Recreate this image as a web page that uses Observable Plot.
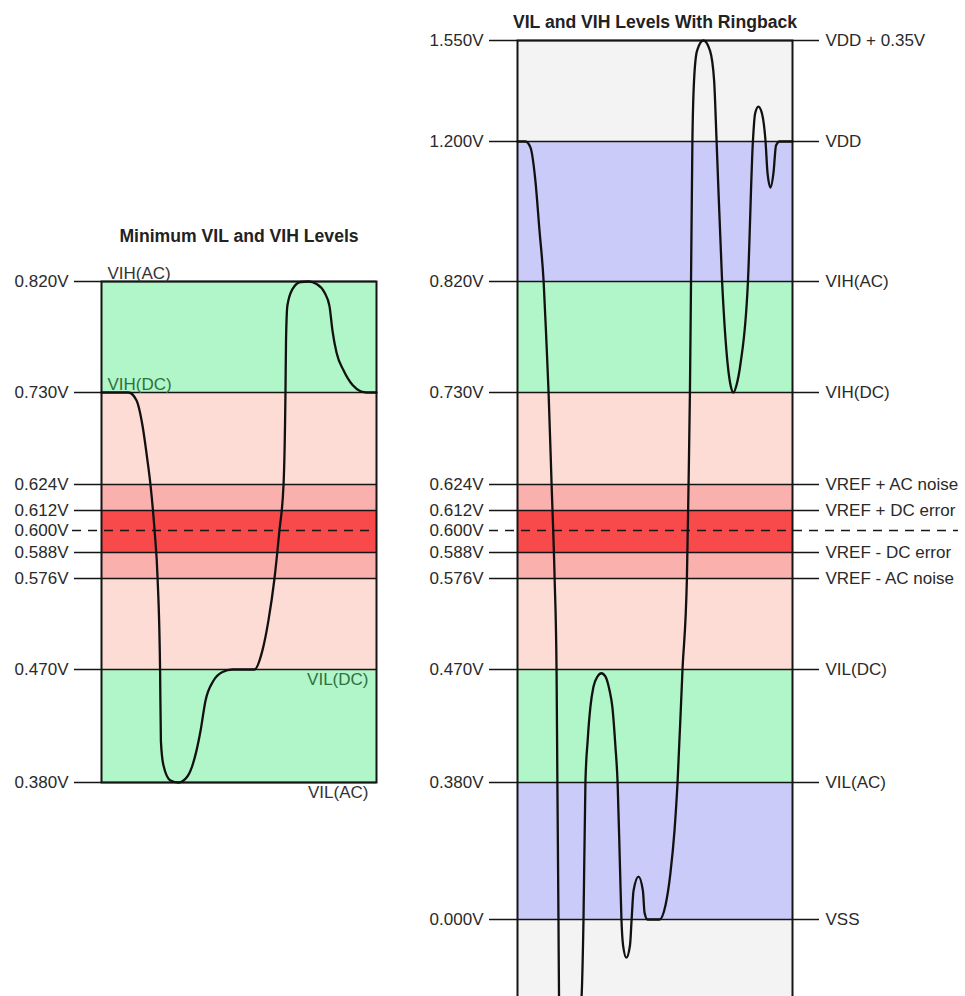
<!DOCTYPE html>
<html>
<head>
<meta charset="utf-8">
<script src="https://cdn.jsdelivr.net/npm/d3@7"></script>
<script src="https://cdn.jsdelivr.net/npm/@observablehq/plot@0.6"></script>
<style>
  html, body { margin: 0; padding: 0; background: #fff; overflow: hidden; }
  #wrap { display: flex; width: 965px; height: 996px; }
  #wrap svg { overflow: hidden; }
</style>
</head>
<body>
<div id="wrap"></div>
<script>
// ---------- data ----------
const leftTitle = "Minimum VIL and VIH Levels";
const rightTitle = "VIL and VIH Levels With Ringback";

// voltage levels (V) and their names on the right-hand panel
const levels     = [0, 0.38, 0.47, 0.576, 0.588, 0.600, 0.612, 0.624, 0.73, 0.82, 1.2, 1.55];
const levelNames = ["VSS", "VIL(AC)", "VIL(DC)", "VREF - AC noise", "VREF - DC error", "",
                    "VREF + DC error", "VREF + AC noise", "VIH(DC)", "VIH(AC)", "VDD", "VDD + 0.35V"];
const vref = 0.600;

// shaded zones
const zoneLow  = [-0.3, 0,    0.38, 0.47,  0.576, 0.588, 0.612, 0.624, 0.73, 0.82, 1.2];
const zoneHigh = [0,    0.38, 0.47, 0.576, 0.588, 0.612, 0.624, 0.73,  0.82, 1.2,  1.55];
const zoneKind = ["outside", "rail", "ac", "dc", "noise", "error", "noise", "dc", "ac", "rail", "outside"];

// names written inside the left panel
const leftNotes      = ["VIH(AC)", "VIH(DC)", "VIL(DC)", "VIL(AC)"];
const leftNoteLevels = [0.82, 0.73, 0.47, 0.38];
const leftNoteKind   = ["ac", "dc", "dc", "ac"];

// waveform, left panel (time 0..100, volts)
const leftT = [0, 9.8, 12.7, 14.9, 16.7, 17.8, 19.3, 20.4, 21.3, 21.6, 22.5, 25.1, 28.0,
               31.3, 34.5, 36.0, 37.8, 40.7, 44.0, 47.6, 55.6, 58.5, 60.7, 62.9, 64.7, 66.2,
               66.9, 67.1, 67.6, 69.5, 72.4, 75.3, 78.2, 81.1, 82.9, 84.0, 85.5, 88.0, 91.3,
               94.2, 96.4, 100];
const leftV = [0.73, 0.73, 0.721, 0.692, 0.652, 0.624, 0.600, 0.576, 0.47, 0.413, 0.394, 0.3816, 0.38,
               0.385, 0.405, 0.421, 0.445, 0.461, 0.468, 0.47, 0.47, 0.492, 0.527, 0.576, 0.600, 0.624,
               0.73, 0.772, 0.8005, 0.814, 0.8196, 0.82, 0.818, 0.811, 0.80, 0.78, 0.762, 0.748, 0.736,
               0.731, 0.73, 0.73];

// waveform, right panel (time 0..100, volts)
const rightT = [0, 2.9, 4.7, 6.5, 8.0, 9.5, 10.5, 11.3, 12.4, 13.5, 14.2, 14.5, 14.9, 15.1, 17.5,
                23.3, 24.0, 24.7, 25.5, 26.5, 27.6, 29.1, 30.5, 32.0, 33.5, 34.5, 35.6, 36.4, 37.3,
                37.8, 38.4, 39.6, 40.9, 41.5, 42.2, 44.0, 45.6, 46.2, 47.3, 51.6, 53.8, 55.6, 57.1,
                58.2, 60.0, 61.6, 62.2, 62.7, 63.1, 63.6, 64.2, 65.3, 67.6, 70.0, 71.5, 72.4, 74.4,
                76.4, 77.5, 78.5, 79.6, 81.1, 83.8, 85.6, 86.4, 87.6, 88.9, 90.2, 90.9, 92.0, 93.1,
                94.0, 95.3, 100];
const rightV = [1.2, 1.2, 1.184, 1.094, 0.958, 0.82, 0.772, 0.73, 0.624, 0.576, 0.47, 0.38, 0, -0.21, -0.6,
                -0.21, 0, 0.38, 0.413, 0.440, 0.456, 0.4644, 0.467, 0.4644, 0.453, 0.440, 0.409, 0.38, 0.136,
                0, -0.071, -0.104, -0.071, 0, 0.080, 0.119, 0.080, 0.019, 0, 0, 0.039, 0.128, 0.247,
                0.38, 0.47, 0.576, 0.624, 0.73, 0.82, 1.2, 1.411, 1.515, 1.55, 1.515, 1.411, 1.2, 0.82,
                0.7535, 0.7357, 0.73, 0.7357, 0.7535, 0.82, 1.2, 1.297, 1.321, 1.297, 1.2, 1.116, 1.075, 1.116,
                1.189, 1.2, 1.2];

// ---------- tables built from the arrays ----------
const zones = zoneLow.map((lo, i) => ({lo, hi: zoneHigh[i], kind: zoneKind[i]}));
const leftZones = zones.filter(z => z.lo >= 0.38 && z.hi <= 0.82);
const leftLevels = levels.filter(v => v >= 0.38 && v <= 0.82);
const leftWave = leftT.map((t, i) => ({t, v: leftV[i]}));
const rightWave = rightT.map((t, i) => ({t, v: rightV[i]}));
const named = levels.map((v, i) => ({v, name: levelNames[i]}));
const notes = leftNotes.map((n, i) => ({name: n, v: leftNoteLevels[i], kind: leftNoteKind[i]}));
const fmtV = d => d.toFixed(3) + "V";

// ---------- layout: the diagram's vertical axis is not linear in volts ----------
// piecewise mapping volts -> diagram depth (from top of the page)
const depth = d3.scaleLinear()
  .domain([-0.21, 0, 0.38, 0.47, 0.576, 0.588, 0.600, 0.612, 0.624, 0.73, 0.82, 1.2, 1.55])
  .range([996, 919, 782, 669, 578, 552, 530, 510, 484, 392, 281, 141, 40]);

const colorScale = {
  domain: ["outside", "rail", "ac", "dc", "noise", "error"],
  range:  ["#f3f3f3", "#cbcbfa", "#b1f6c8", "#fddcd5", "#fab0ad", "#f84a4a"]
};
const style = {fontFamily: "'Liberation Sans', Arial, sans-serif", fontSize: "17px", background: "transparent", color: "#222"};
const lineColor = "#151515";
const titleSize = "17.6px";

// ---------- left panel ----------
const left = Plot.plot({
  width: 420, height: 996,
  marginLeft: 101, marginRight: 44, marginTop: 281, marginBottom: 214,
  x: {axis: null, domain: [0, 100]},
  y: {axis: null, transform: depth, domain: [782, 281]},
  color: colorScale,
  style,
  marks: [
    Plot.rect(leftZones, {y1: "lo", y2: "hi", fill: "kind"}),
    Plot.ruleY(leftLevels.filter(v => v !== vref), {stroke: lineColor, strokeWidth: 1.6, insetLeft: -27}),
    Plot.ruleY([vref], {stroke: lineColor, strokeWidth: 1.6, strokeDasharray: "9,7", insetLeft: -29}),
    Plot.frame({stroke: lineColor, strokeWidth: 2}),
    Plot.line(leftWave, {x: "t", y: "v", curve: "monotone-x", stroke: "#111", strokeWidth: 2.3}),
    Plot.text(leftLevels, {y: d => d, text: fmtV, frameAnchor: "left", dx: -33, textAnchor: "end", fill: "#2a2a2a"}),
    Plot.text(notes.filter(d => d.v > 0.6), {y: "v", text: "name", frameAnchor: "left", dx: 6, dy: -3,
      textAnchor: "start", lineAnchor: "bottom", fill: d => d.kind === "dc" ? "#2f7040" : "#333"}),
    Plot.text(notes.filter(d => d.v < 0.6), {y: "v", text: "name", frameAnchor: "right", dx: -8, dy: 3,
      textAnchor: "end", lineAnchor: "top", fill: d => d.kind === "dc" ? "#2f7040" : "#333"}),
    Plot.text([leftTitle], {text: d => d, frameAnchor: "top", dy: -52, fontWeight: "bold", fontSize: titleSize, fill: "#222"})
  ]
});

// ---------- right panel ----------
const right = Plot.plot({
  width: 545, height: 996,
  marginLeft: 97, marginRight: 173, marginTop: 40, marginBottom: -10,
  x: {axis: null, domain: [0, 100]},
  y: {axis: null, transform: depth, domain: [1006, 40]},
  color: colorScale,
  style,
  marks: [
    Plot.rect(zones, {y1: "lo", y2: "hi", fill: "kind"}),
    Plot.ruleY(levels.filter(v => v !== vref), {stroke: lineColor, strokeWidth: 1.6, insetLeft: -28, insetRight: -27}),
    Plot.ruleY([vref], {stroke: lineColor, strokeWidth: 1.6, strokeDasharray: "9,7", insetLeft: -28, insetRight: -166}),
    Plot.frame({stroke: lineColor, strokeWidth: 2}),
    Plot.line(rightWave, {x: "t", y: "v", curve: "monotone-x", stroke: "#111", strokeWidth: 2.3}),
    Plot.text(levels, {y: d => d, text: fmtV, frameAnchor: "left", dx: -34, textAnchor: "end", fill: "#2a2a2a"}),
    Plot.text(named.filter(d => d.name), {y: "v", text: "name", frameAnchor: "right", dx: 33, textAnchor: "start", fill: "#2a2a2a"}),
    Plot.text([rightTitle], {text: d => d, frameAnchor: "top", dy: -25, fontWeight: "bold", fontSize: titleSize, fill: "#222"})
  ]
});

const wrap = document.getElementById("wrap");
wrap.appendChild(left);
wrap.appendChild(right);
</script>
</body>
</html>
